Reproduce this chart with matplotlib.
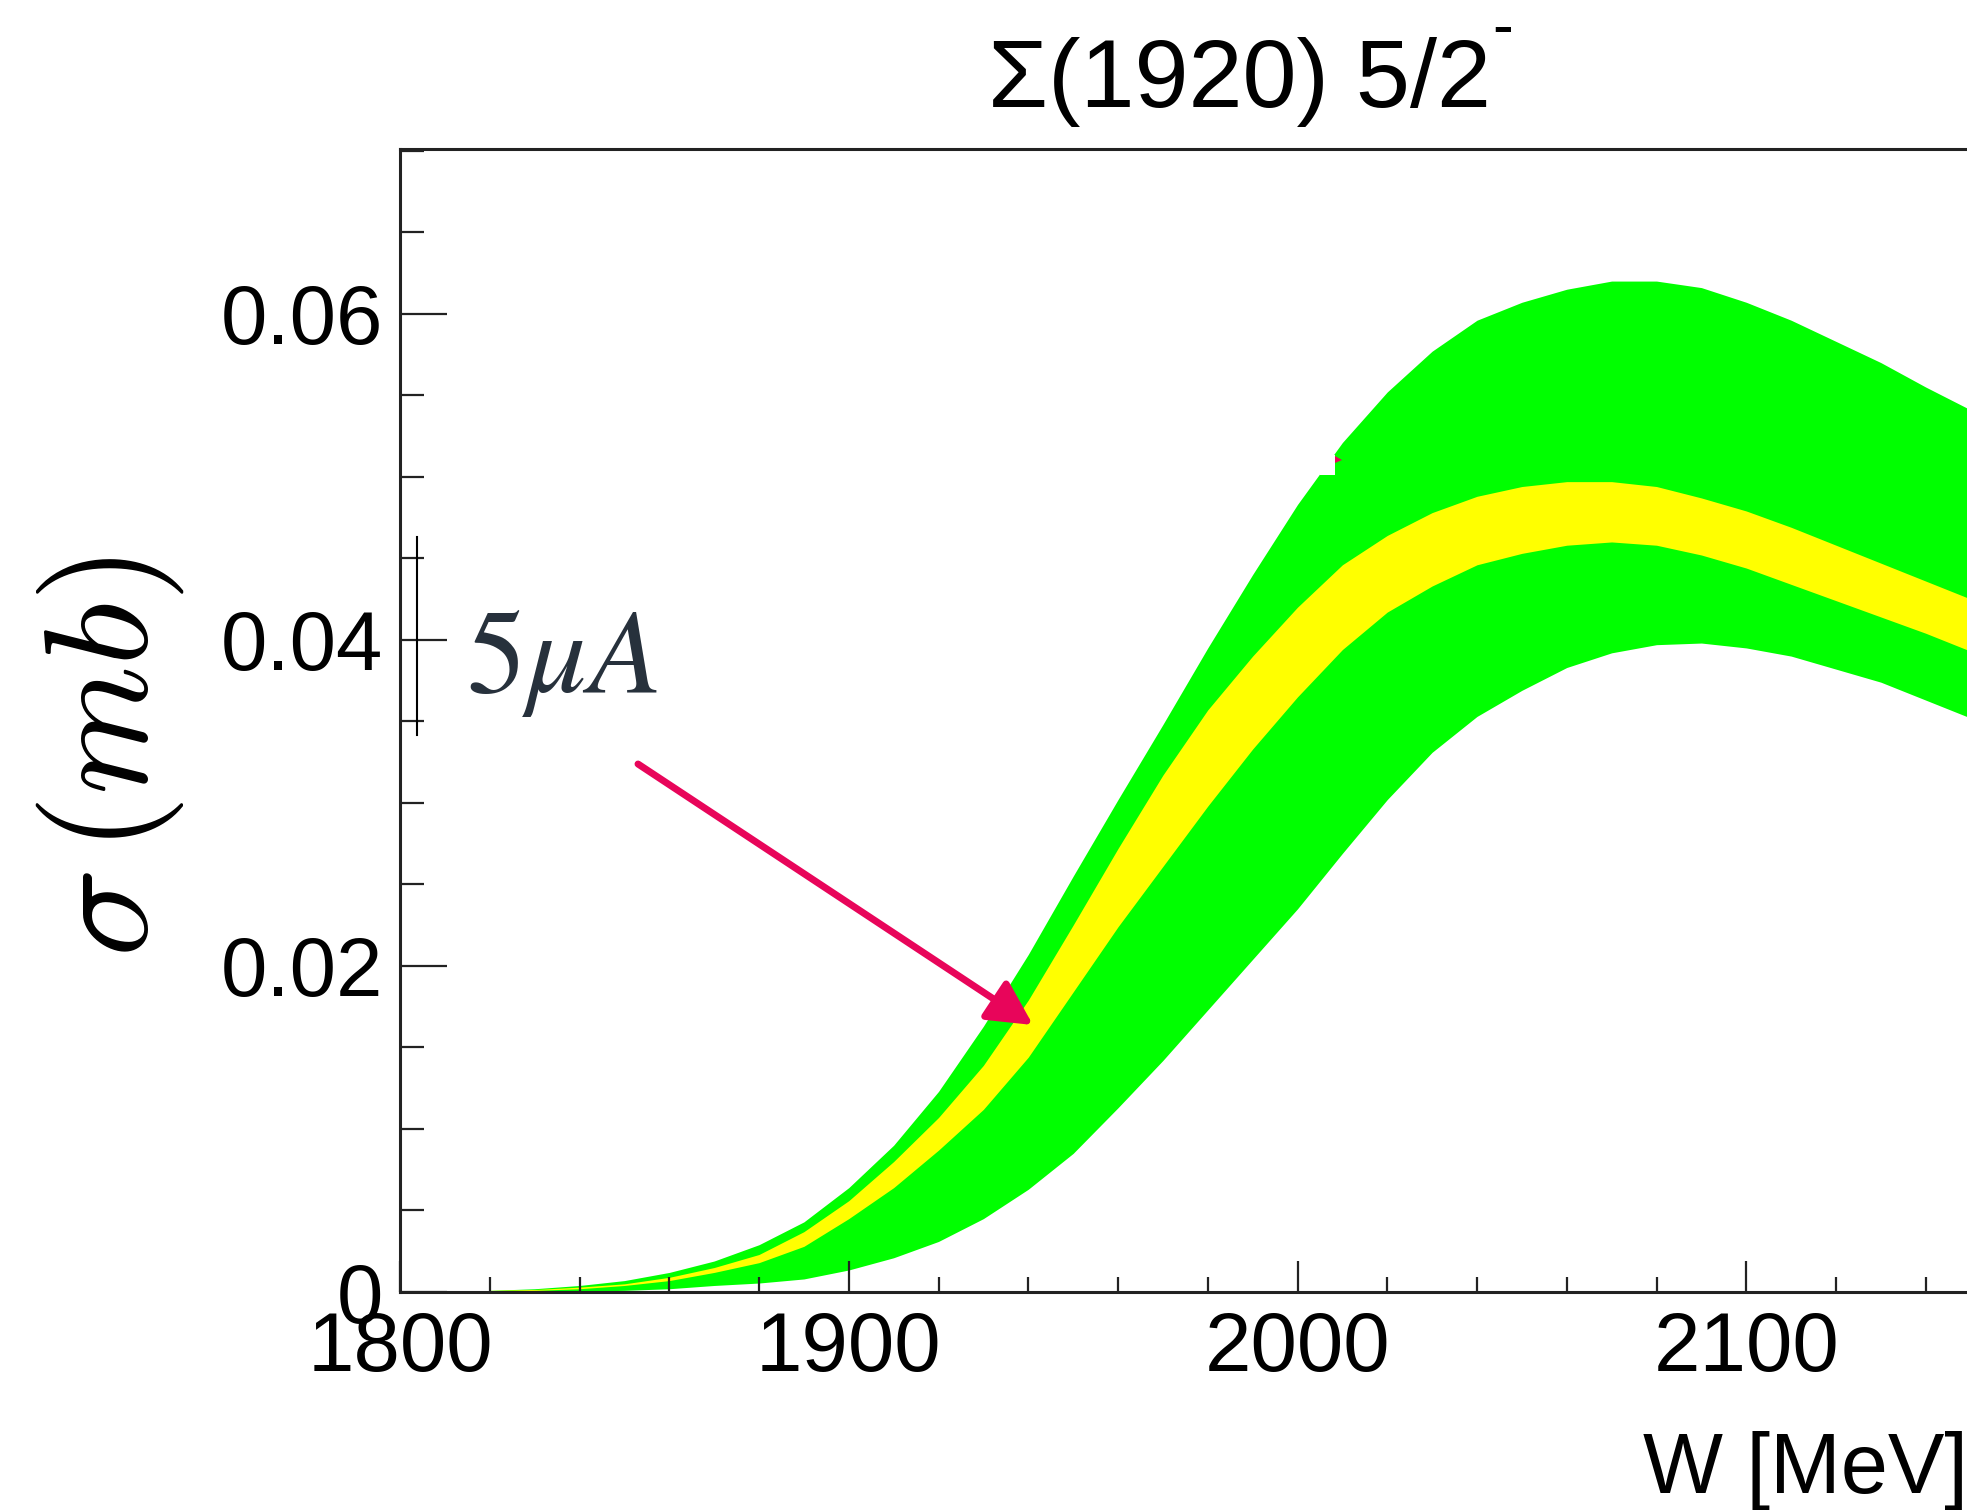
import matplotlib
matplotlib.use("Agg")
import matplotlib.pyplot as plt
from matplotlib.patches import FancyArrowPatch, Rectangle, Polygon
from matplotlib.lines import Line2D
from matplotlib.ticker import MultipleLocator, FixedLocator, FixedFormatter

plt.rcParams['font.family'] = ['Liberation Sans', 'DejaVu Sans']

# ---- data ----
W_MeV = [1820, 1830, 1840, 1850, 1860, 1870, 1880, 1890, 1900, 1910,
         1920, 1930, 1940, 1950, 1960, 1970, 1980, 1990, 2000, 2010,
         2020, 2030, 2040, 2050, 2060, 2070, 2080, 2090, 2100, 2110,
         2120, 2130, 2140, 2150]
green_hi = [0.0001, 0.0002, 0.0004, 0.0007, 0.0012, 0.0019, 0.0029, 0.0043, 0.0064, 0.0090,
            0.0123, 0.0163, 0.0207, 0.0255, 0.0302, 0.0348, 0.0395, 0.0440, 0.0483, 0.0521,
            0.0552, 0.0577, 0.0596, 0.0607, 0.0615, 0.0620, 0.0620, 0.0616, 0.0607, 0.0596,
            0.0583, 0.0570, 0.0555, 0.0541]
yellow_hi = [0.0001, 0.00015, 0.0003, 0.0005, 0.0009, 0.0015, 0.0023, 0.0037, 0.0056, 0.0080,
             0.0107, 0.0139, 0.0179, 0.0225, 0.0272, 0.0317, 0.0357, 0.0390, 0.0420, 0.0446,
             0.0464, 0.0478, 0.0488, 0.0494, 0.0497, 0.0497, 0.0494, 0.0487, 0.0479, 0.0469,
             0.0458, 0.0447, 0.0436, 0.0425]
yellow_lo = [0.0, 0.0001, 0.0002, 0.0004, 0.0007, 0.0012, 0.0018, 0.0028, 0.0045, 0.0064,
             0.0087, 0.0112, 0.0144, 0.0184, 0.0224, 0.0261, 0.0298, 0.0333, 0.0365, 0.0394,
             0.0417, 0.0433, 0.0446, 0.0453, 0.0458, 0.0460, 0.0458, 0.0452, 0.0444, 0.0434,
             0.0424, 0.0414, 0.0404, 0.0393]
green_lo = [0.0, 0.0, 0.00005, 0.0001, 0.0002, 0.0004, 0.00055, 0.0008, 0.00135, 0.0021,
            0.0031, 0.0045, 0.0063, 0.0085, 0.0113, 0.0142, 0.0173, 0.0204, 0.0235, 0.0269,
            0.0302, 0.0331, 0.0353, 0.0369, 0.0383, 0.0392, 0.0397, 0.0398, 0.0395, 0.0390,
            0.0382, 0.0374, 0.0363, 0.0352]

xticks = [1800, 1900, 2000, 2100]
xtick_labels = ['1800', '1900', '2000', '2100']
yticks = [0.0, 0.02, 0.04, 0.06]
ytick_labels = ['0', '0.02', '0.04', '0.06']

title_text = 'Σ(1920) 5/2'
xlabel_text = 'W [MeV]'
ylabel_text = r'$\sigma\,(mb)$'
note_text = r'$5\mu A$'

# ---- figure ----
FW, FH = 1967, 1510
fig = plt.figure(figsize=(FW / 100, FH / 100), dpi=100)

def fx(px):
    return px / FW

def fy(py):
    return 1 - py / FH

ax = fig.add_axes([fx(400), fy(1292), 1795 / FW, (1292 - 149) / FH])
ax.set_xlim(1800, 2200)
ax.set_ylim(0, 0.0701)

ax.fill_between(W_MeV, green_lo, green_hi, color='#00ff00', lw=0)
ax.fill_between(W_MeV, yellow_lo, yellow_hi, color='#ffff00', lw=0)

for s in ['top', 'left', 'bottom']:
    ax.spines[s].set_linewidth(2.2)
    ax.spines[s].set_color('#222222')
ax.spines['right'].set_visible(False)

ax.xaxis.set_major_locator(FixedLocator(xticks))
ax.xaxis.set_major_formatter(FixedFormatter(xtick_labels))
ax.xaxis.set_minor_locator(MultipleLocator(20))
ax.yaxis.set_major_locator(FixedLocator(yticks))
ax.yaxis.set_major_formatter(FixedFormatter(ytick_labels))
ax.yaxis.set_minor_locator(MultipleLocator(0.005))

ax.tick_params(axis='x', which='major', direction='in', length=22, width=1.6,
               color='#222222', labelsize=60, pad=13, top=False)
ax.tick_params(axis='x', which='minor', direction='in', length=11, width=1.6,
               color='#222222', top=False)
ax.tick_params(axis='y', which='major', direction='in', length=34, width=1.6,
               color='#222222', labelsize=60, pad=12, right=False)
ax.tick_params(axis='y', which='minor', direction='in', length=17, width=1.6,
               color='#222222', right=False)

# title with superscript minus
fig.text(fx(1239), fy(107), title_text, fontsize=70, ha='center', va='baseline')
fig.text(fx(1492), fy(46), '-', fontsize=45, ha='left', va='baseline')

# axis labels
fig.text(fx(1643), fy(1493), xlabel_text, fontsize=61, ha='left', va='baseline')
fig.text(fx(110), fy(757), ylabel_text, fontsize=106, rotation=90,
         ha='center', va='center', math_fontfamily='cm')

# annotation: bar, text, arrow
fig.add_artist(Line2D([fx(417), fx(417)], [fy(537), fy(735)], color='black', lw=1.5))
fig.text(fx(466), fy(692), note_text, fontsize=86, ha='left', va='baseline',
         color='#27313c', math_fontfamily='stix')
arrow = FancyArrowPatch((fx(638), fy(764)), (fx(1033), fy(1025)),
                        transform=fig.transFigure,
                        arrowstyle='-|>,head_length=27,head_width=14',
                        mutation_scale=1, lw=5, color='#e8055a',
                        shrinkA=0, shrinkB=0)
fig.add_artist(arrow)

# small artifact near the band edge
fig.add_artist(Rectangle((fx(1320), fy(475)), 15 / FW, 20 / FH,
                         transform=fig.transFigure, facecolor='white', edgecolor='none'))
fig.add_artist(Polygon([(fx(1335), fy(456)), (fx(1342), fy(460)), (fx(1335), fy(463))],
                       closed=True, transform=fig.transFigure,
                       facecolor='#e8055a', edgecolor='none'))

fig.savefig('out.png', dpi=100)
